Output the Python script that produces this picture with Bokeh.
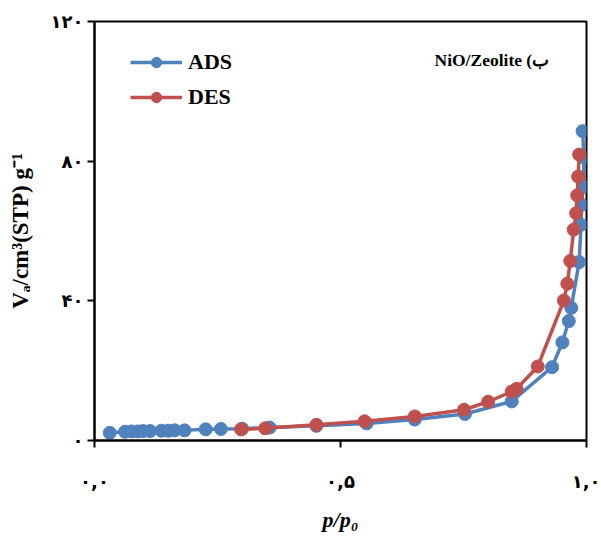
from bokeh.plotting import figure
from bokeh.models import FixedTicker, Legend, LegendItem, Label, Range1d
from bokeh.embed import file_html
from bokeh.resources import INLINE

# Adsorption branch (p/p0, V)
ads_p = [0.031, 0.062, 0.075, 0.088, 0.099, 0.113, 0.136, 0.150, 0.163, 0.183,
         0.226, 0.257, 0.300, 0.356, 0.451, 0.553, 0.651, 0.753, 0.848, 0.930,
         0.951, 0.964, 0.969, 0.985, 0.989, 0.990, 0.993, 0.995, 0.992]
ads_v = [2.2, 2.5, 2.6, 2.6, 2.7, 2.7, 2.8, 2.8, 2.9, 2.9,
         3.2, 3.3, 3.4, 3.7, 4.2, 4.9, 6.0, 7.6, 11.2, 21.0,
         28.1, 34.2, 38.0, 51.1, 61.8, 67.5, 72.6, 81.0, 88.6]

# Desorption branch
des_p = [0.985, 0.983, 0.981, 0.979, 0.974, 0.967, 0.961, 0.954, 0.901, 0.858,
         0.848, 0.800, 0.751, 0.651, 0.549, 0.451, 0.347, 0.298]
des_v = [81.9, 75.6, 70.2, 65.1, 60.4, 51.4, 44.9, 40.1, 21.2, 14.8,
         14.0, 11.1, 8.8, 6.9, 5.5, 4.5, 3.5, 3.2]

x_ticks = [0, 0.5, 1.0]
x_tick_labels = ["۰,۰", "۰,۵", "۱,۰"]
y_ticks = [0, 40, 80, 120]
y_tick_labels = ["۰", "۴۰", "۸۰", "۱۲۰"]

series_names = ["ADS", "DES"]
title_text = "NiO/Zeolite (ب"
x_title = "p/p₀"
y_title = "Vₐ/cm³(STP) g⁻¹"

BLUE = "#4F81BD"
RED = "#C0504D"
FONT = "Liberation Serif"

p = figure(width=600, height=535, output_backend="svg", toolbar_location=None,
           x_range=Range1d(0, 1), y_range=Range1d(0, 120),
           min_border_left=94, min_border_top=21, min_border_right=14, min_border_bottom=95)
p.background_fill_color = "white"
p.border_fill_color = "white"
p.outline_line_color = "black"
p.outline_line_width = 2
p.xgrid.visible = False
p.ygrid.visible = False

r_ads_l = p.line(ads_p, ads_v, line_color=BLUE, line_width=3.5)
r_ads_m = p.scatter(ads_p, ads_v, size=13, fill_color=BLUE, line_color=BLUE)
r_des_l = p.line(des_p, des_v, line_color=RED, line_width=3.5)
r_des_m = p.scatter(des_p, des_v, size=13, fill_color=RED, line_color=RED)

for ax in (p.xaxis[0], p.yaxis[0]):
    ax.axis_line_color = "black"
    ax.axis_line_width = 2
    ax.major_tick_line_color = "black"
    ax.major_tick_line_width = 2
    ax.major_tick_in = 0
    ax.major_tick_out = 7
    ax.minor_tick_line_color = None
    ax.major_label_text_font = "DejaVu Sans"
    ax.major_label_text_font_style = "bold"
    ax.major_label_text_font_size = "18px"
    ax.major_label_text_color = "black"
    ax.axis_label_text_font = FONT
    ax.axis_label_text_color = "black"

p.xaxis.ticker = FixedTicker(ticks=x_ticks)
p.xaxis.major_label_overrides = dict(zip(x_ticks, x_tick_labels))
p.yaxis.ticker = FixedTicker(ticks=y_ticks)
p.yaxis.major_label_overrides = dict(zip(y_ticks, y_tick_labels))

p.xaxis.major_label_standoff = 23
p.yaxis.major_label_standoff = 4

p.xaxis.axis_label = x_title
p.xaxis.axis_label_text_font_style = "bold italic"
p.xaxis.axis_label_text_font_size = "22px"
p.xaxis.axis_label_standoff = 12

p.yaxis.axis_label = y_title
p.yaxis.axis_label_text_font_style = "bold"
p.yaxis.axis_label_text_font_size = "23px"
p.yaxis.axis_label_standoff = 15

legend = Legend(items=[LegendItem(label=series_names[0], renderers=[r_ads_l, r_ads_m]),
                       LegendItem(label=series_names[1], renderers=[r_des_l, r_des_m])],
                location=(36, 330), orientation="vertical",
                glyph_width=52, glyph_height=26, label_height=26, spacing=9,
                label_standoff=6, padding=0, margin=0,
                label_text_font=FONT, label_text_font_style="bold",
                label_text_font_size="22px", label_text_color="black",
                border_line_color=None, background_fill_alpha=0)
p.add_layout(legend)

p.add_layout(Label(x=340, y=381, x_units="screen", y_units="screen",
                   text=title_text, text_font=FONT, text_font_style="bold",
                   text_font_size="17.5px", text_baseline="middle", text_color="black"))

open("out.html", "w").write(file_html(p, INLINE))
